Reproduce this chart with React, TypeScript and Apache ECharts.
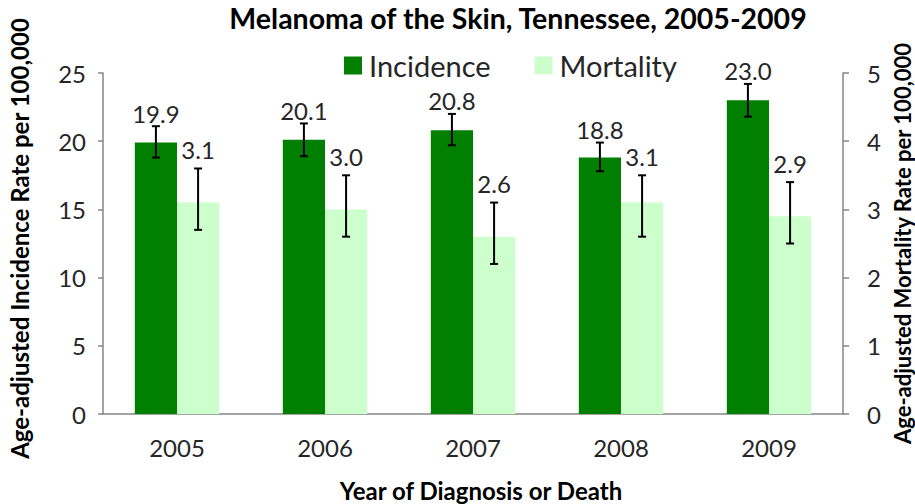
import React, { useEffect, useRef } from "react";
import * as echarts from "echarts";

const years = ["2005", "2006", "2007", "2008", "2009"];
const incidence = [19.9, 20.1, 20.8, 18.8, 23.0];
const incidenceLow = [18.8, 18.9, 19.7, 17.8, 21.8];
const incidenceHigh = [21.1, 21.3, 22.0, 19.9, 24.2];
const mortality = [3.1, 3.0, 2.6, 3.1, 2.9];
const mortalityLow = [2.7, 2.6, 2.2, 2.6, 2.5];
const mortalityHigh = [3.6, 3.5, 3.1, 3.5, 3.4];
const leftTicks = { min: 0, max: 25, interval: 5 };
const rightTicks = { min: 0, max: 5, interval: 1 };

const GAP = 0.43;
const FONT = "Lato";
const TEXT = "#262626";
const AXIS = "#868686";

function errorRenderer(sign: number, labelOffset: number) {
  return (params: any, api: any) => {
    const idx = api.value(0);
    const lo = api.value(1);
    const hi = api.value(2);
    const val = api.value(3);
    const top = api.coord([idx, hi]);
    const bot = api.coord([idx, lo]);
    const band = api.size([1, 0])[0];
    const barW = (band * (1 - GAP)) / 2;
    const x = top[0] + (sign * barW) / 2;
    const cap = 4;
    const ls = { stroke: "#000", lineWidth: 2 };
    return {
      type: "group",
      children: [
        { type: "line", shape: { x1: x, y1: top[1], x2: x, y2: bot[1] }, style: ls },
        { type: "line", shape: { x1: x - cap, y1: top[1], x2: x + cap, y2: top[1] }, style: ls },
        { type: "line", shape: { x1: x - cap, y1: bot[1], x2: x + cap, y2: bot[1] }, style: ls },
        {
          type: "text",
          x: x,
          y: top[1] - labelOffset,
          style: {
            text: Number(val).toFixed(1),
            textAlign: "center",
            textVerticalAlign: "bottom",
            align: "center",
            verticalAlign: "bottom",
            fontFamily: FONT,
            fontSize: 24,
            fill: TEXT,
          },
        },
      ],
    };
  };
}

export default function App() {
  const ref = useRef<HTMLDivElement>(null);
  useEffect(() => {
    document.body.style.margin = "0";
    const chart = echarts.init(ref.current!, null, { renderer: "svg" });
    chart.setOption({
      animation: false,
      backgroundColor: "#fff",
      graphic: [
        {
          type: "text",
          x: 518,
          y: 3,
          style: {
            text: "Melanoma of the Skin, Tennessee, 2005-2009",
            textAlign: "center",
            align: "center",
            verticalAlign: "top",
            textVerticalAlign: "top",
            fontFamily: FONT,
            fontWeight: "bold",
            fontSize: 28.5,
            lineHeight: 29,
            fill: "#000",
          },
        },
      ],
      legend: {
        data: ["Incidence", "Mortality"],
        left: 339,
        top: 46,
        itemWidth: 18,
        itemHeight: 18,
        itemGap: 44,
        icon: "rect",
        textStyle: { fontFamily: FONT, fontSize: 29, color: TEXT, padding: [0, 0, 0, 2] },
      },
      grid: { left: 103, right: 72, top: 73, bottom: 90, outerBoundsMode: "none", containLabel: false },
      xAxis: {
        type: "category",
        data: years,
        name: "Year of Diagnosis or Death",
        nameLocation: "middle",
        nameGap: 64,
        nameTextStyle: {
          fontFamily: FONT,
          fontWeight: "bold",
          fontSize: 24,
          color: "#000",
          padding: [0, 0, 0, 16],
        },
        axisLine: { lineStyle: { color: AXIS, width: 1.5 } },
        axisTick: { length: 8, lineStyle: { color: AXIS, width: 1.5 } },
        axisLabel: { fontFamily: FONT, fontSize: 24, color: TEXT, margin: 21 },
      },
      yAxis: [
        {
          type: "value",
          ...leftTicks,
          name: "Age-adjusted Incidence Rate per 100,000",
          nameLocation: "middle",
          nameGap: 72,
          nameTextStyle: {
            fontFamily: FONT,
            fontWeight: "bold",
            fontSize: 24,
            color: "#000",
            padding: [0, 0, 0, 10],
          },
          axisLine: { show: true, lineStyle: { color: AXIS, width: 1.5 } },
          axisTick: { show: true, length: 5, lineStyle: { color: AXIS, width: 1.5 } },
          axisLabel: { fontFamily: FONT, fontSize: 24, color: TEXT, margin: 17 },
          splitLine: { show: false },
        },
        {
          type: "value",
          ...rightTicks,
          position: "right",
          name: "Age-adjusted Mortality Rate per 100,000",
          nameLocation: "middle",
          nameGap: 41,
          nameTextStyle: {
            fontFamily: FONT,
            fontWeight: "bold",
            fontSize: 22,
            color: "#000",
          },
          axisLine: { show: true, lineStyle: { color: AXIS, width: 1.5 } },
          axisTick: { show: true, length: 6, lineStyle: { color: AXIS, width: 1.5 } },
          axisLabel: { fontFamily: FONT, fontSize: 24, color: TEXT, margin: 24 },
          splitLine: { show: false },
        },
      ],
      series: [
        {
          name: "Incidence",
          type: "bar",
          yAxisIndex: 0,
          data: incidence,
          barGap: "0%",
          barCategoryGap: GAP * 100 + "%",
          itemStyle: { color: "#007F00" },
        },
        {
          name: "Mortality",
          type: "bar",
          yAxisIndex: 1,
          data: mortality,
          barGap: "0%",
          barCategoryGap: GAP * 100 + "%",
          itemStyle: { color: "#CCFFCC" },
        },
        {
          name: "IncidenceError",
          type: "custom",
          yAxisIndex: 0,
          z: 10,
          renderItem: errorRenderer(-1, 1),
          data: years.map((_, i) => [i, incidenceLow[i], incidenceHigh[i], incidence[i]]),
        },
        {
          name: "MortalityError",
          type: "custom",
          yAxisIndex: 1,
          z: 10,
          renderItem: errorRenderer(1, 7),
          data: years.map((_, i) => [i, mortalityLow[i], mortalityHigh[i], mortality[i]]),
        },
      ],
    });
    return () => chart.dispose();
  }, []);
  return (
    <div
      ref={ref}
      style={{ width: 915, height: 504, position: "absolute", left: 0, top: 0 }}
    />
  );
}
